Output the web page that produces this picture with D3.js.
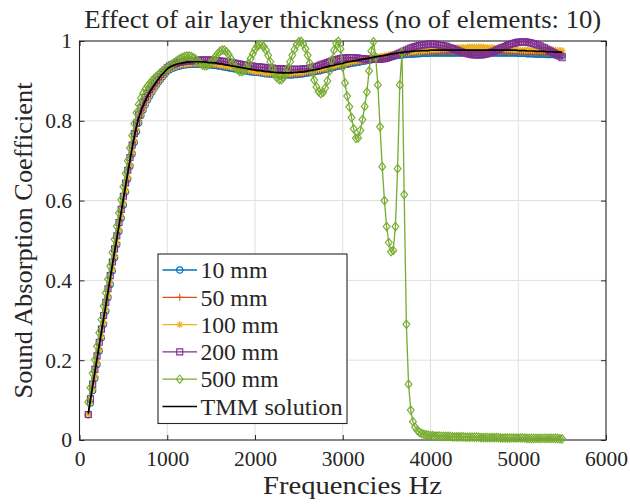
<!DOCTYPE html>
<html>
<head>
<meta charset="utf-8">
<script src="https://cdn.jsdelivr.net/npm/d3@7"></script>
<style>
  body { margin: 0; background: #fff; }
  svg text { font-family: "Liberation Serif", "DejaVu Serif", "Times New Roman", serif; fill: #262626; }
</style>
</head>
<body>
<svg id="chart" width="630" height="504"></svg>
<script>
// Frequency grid (Hz): 100 to 5500 in 25 Hz steps
const frequencies = d3.range(100, 5501, 25);

// Transfer-matrix reference solution
const tmmSolution = [
  0.067,0.101,0.135,0.169,0.203,0.237,0.270,0.304,
  0.337,0.371,0.404,0.438,0.471,0.504,0.537,0.570,
  0.603,0.636,0.668,0.700,0.731,0.760,0.786,0.807,
  0.824,0.838,0.850,0.861,0.871,0.880,0.889,0.897,
  0.905,0.912,0.918,0.924,0.930,0.934,0.937,0.939,
  0.941,0.943,0.944,0.945,0.946,0.947,0.947,0.948,
  0.948,0.948,0.948,0.948,0.948,0.947,0.947,0.946,
  0.946,0.945,0.945,0.944,0.943,0.942,0.941,0.940,
  0.939,0.938,0.937,0.936,0.935,0.934,0.933,0.932,
  0.931,0.930,0.929,0.928,0.927,0.926,0.926,0.925,
  0.924,0.923,0.923,0.922,0.922,0.921,0.921,0.920,
  0.920,0.920,0.920,0.920,0.920,0.920,0.921,0.921,
  0.922,0.922,0.923,0.924,0.925,0.926,0.927,0.928,
  0.929,0.930,0.931,0.933,0.934,0.935,0.937,0.938,
  0.939,0.941,0.942,0.943,0.944,0.946,0.947,0.948,
  0.949,0.950,0.951,0.952,0.953,0.954,0.955,0.956,
  0.957,0.958,0.959,0.960,0.961,0.962,0.963,0.964,
  0.965,0.966,0.967,0.968,0.969,0.970,0.971,0.971,
  0.972,0.973,0.973,0.974,0.974,0.975,0.975,0.975,
  0.976,0.976,0.976,0.976,0.977,0.977,0.977,0.977,
  0.977,0.977,0.977,0.977,0.977,0.977,0.977,0.977,
  0.977,0.977,0.977,0.977,0.977,0.977,0.977,0.977,
  0.977,0.977,0.977,0.977,0.977,0.977,0.977,0.977,
  0.977,0.977,0.977,0.977,0.977,0.977,0.977,0.977,
  0.977,0.977,0.977,0.977,0.976,0.976,0.976,0.976,
  0.975,0.975,0.975,0.975,0.974,0.974,0.974,0.974,
  0.974,0.973,0.973,0.973,0.973,0.972,0.972,0.972,
  0.972
];

// Air layer 10 mm
const air10 = [
  0.063,0.093,0.124,0.155,0.189,0.223,0.256,0.290,
  0.323,0.357,0.390,0.424,0.457,0.490,0.523,0.556,
  0.589,0.622,0.654,0.686,0.717,0.746,0.773,0.795,
  0.813,0.828,0.841,0.852,0.862,0.872,0.881,0.889,
  0.897,0.904,0.911,0.917,0.924,0.928,0.931,0.933,
  0.935,0.937,0.938,0.939,0.940,0.941,0.941,0.942,
  0.942,0.942,0.942,0.942,0.942,0.941,0.941,0.940,
  0.940,0.939,0.939,0.938,0.937,0.936,0.935,0.934,
  0.933,0.932,0.931,0.930,0.929,0.928,0.927,0.926,
  0.925,0.924,0.923,0.922,0.922,0.921,0.921,0.920,
  0.919,0.918,0.918,0.917,0.917,0.916,0.916,0.915,
  0.915,0.915,0.915,0.915,0.915,0.915,0.916,0.916,
  0.917,0.917,0.918,0.919,0.920,0.921,0.922,0.923,
  0.924,0.925,0.926,0.928,0.929,0.930,0.932,0.933,
  0.934,0.936,0.937,0.938,0.939,0.941,0.942,0.943,
  0.944,0.945,0.946,0.947,0.948,0.949,0.950,0.951,
  0.952,0.953,0.954,0.955,0.956,0.957,0.958,0.958,
  0.959,0.960,0.961,0.962,0.963,0.964,0.965,0.965,
  0.966,0.966,0.967,0.967,0.967,0.968,0.968,0.968,
  0.969,0.969,0.969,0.969,0.970,0.970,0.970,0.970,
  0.970,0.970,0.970,0.970,0.970,0.970,0.970,0.970,
  0.970,0.970,0.970,0.970,0.970,0.970,0.970,0.970,
  0.970,0.970,0.970,0.970,0.970,0.970,0.970,0.970,
  0.970,0.970,0.970,0.970,0.970,0.970,0.970,0.970,
  0.970,0.970,0.970,0.970,0.969,0.969,0.969,0.969,
  0.968,0.968,0.968,0.968,0.967,0.967,0.967,0.967,
  0.967,0.966,0.966,0.966,0.966,0.965,0.965,0.965,
  0.965
];

// Air layer 50 mm
const air50 = [
  0.064,0.096,0.128,0.159,0.193,0.227,0.260,0.294,
  0.327,0.361,0.394,0.428,0.461,0.494,0.527,0.560,
  0.593,0.626,0.658,0.690,0.721,0.750,0.777,0.799,
  0.816,0.831,0.844,0.855,0.865,0.874,0.883,0.891,
  0.899,0.907,0.913,0.919,0.926,0.930,0.933,0.935,
  0.937,0.939,0.940,0.941,0.942,0.943,0.943,0.944,
  0.944,0.944,0.944,0.944,0.944,0.943,0.943,0.942,
  0.942,0.941,0.941,0.940,0.939,0.938,0.937,0.936,
  0.935,0.934,0.933,0.932,0.931,0.930,0.929,0.928,
  0.927,0.926,0.925,0.924,0.923,0.922,0.922,0.921,
  0.920,0.919,0.919,0.918,0.918,0.917,0.917,0.916,
  0.916,0.916,0.916,0.916,0.916,0.916,0.917,0.917,
  0.918,0.918,0.919,0.920,0.921,0.922,0.923,0.924,
  0.925,0.926,0.927,0.929,0.930,0.931,0.933,0.934,
  0.935,0.937,0.938,0.939,0.940,0.942,0.943,0.944,
  0.945,0.946,0.947,0.948,0.949,0.950,0.951,0.952,
  0.953,0.954,0.955,0.956,0.957,0.958,0.959,0.960,
  0.961,0.962,0.963,0.964,0.965,0.966,0.967,0.967,
  0.968,0.969,0.969,0.970,0.970,0.971,0.971,0.971,
  0.972,0.972,0.972,0.972,0.973,0.973,0.973,0.973,
  0.973,0.973,0.973,0.973,0.973,0.973,0.973,0.973,
  0.973,0.973,0.973,0.973,0.973,0.973,0.973,0.973,
  0.973,0.973,0.973,0.973,0.973,0.973,0.973,0.973,
  0.973,0.973,0.973,0.973,0.973,0.973,0.973,0.973,
  0.973,0.973,0.973,0.973,0.972,0.972,0.972,0.972,
  0.971,0.971,0.971,0.971,0.970,0.970,0.970,0.970,
  0.970,0.969,0.969,0.969,0.969,0.968,0.968,0.968,
  0.968
];

// Air layer 100 mm
const air100 = [
  0.064,0.095,0.127,0.158,0.192,0.226,0.259,0.293,
  0.326,0.360,0.393,0.427,0.460,0.493,0.526,0.559,
  0.592,0.625,0.657,0.689,0.720,0.749,0.776,0.798,
  0.815,0.830,0.843,0.854,0.864,0.873,0.882,0.890,
  0.898,0.906,0.912,0.918,0.925,0.929,0.932,0.935,
  0.937,0.939,0.940,0.941,0.942,0.943,0.943,0.944,
  0.944,0.944,0.944,0.944,0.944,0.944,0.944,0.943,
  0.943,0.942,0.942,0.941,0.940,0.939,0.938,0.937,
  0.936,0.935,0.934,0.933,0.932,0.931,0.930,0.929,
  0.928,0.927,0.926,0.925,0.924,0.923,0.923,0.922,
  0.921,0.920,0.920,0.919,0.919,0.918,0.918,0.918,
  0.918,0.918,0.918,0.918,0.918,0.919,0.920,0.920,
  0.921,0.921,0.922,0.923,0.924,0.925,0.926,0.927,
  0.928,0.929,0.930,0.932,0.933,0.934,0.936,0.937,
  0.938,0.940,0.941,0.942,0.943,0.945,0.946,0.947,
  0.948,0.949,0.950,0.951,0.952,0.953,0.954,0.955,
  0.956,0.957,0.958,0.959,0.960,0.961,0.962,0.963,
  0.964,0.965,0.966,0.967,0.968,0.969,0.970,0.970,
  0.971,0.972,0.972,0.973,0.973,0.974,0.974,0.975,
  0.975,0.976,0.976,0.977,0.977,0.978,0.978,0.979,
  0.979,0.980,0.980,0.981,0.981,0.982,0.982,0.983,
  0.983,0.983,0.984,0.984,0.984,0.985,0.985,0.985,
  0.985,0.985,0.985,0.985,0.985,0.984,0.984,0.984,
  0.983,0.983,0.982,0.982,0.981,0.981,0.980,0.980,
  0.979,0.979,0.978,0.978,0.978,0.977,0.977,0.977,
  0.977,0.977,0.977,0.977,0.977,0.977,0.977,0.977,
  0.977,0.977,0.977,0.977,0.977,0.977,0.976,0.976,
  0.976
];

// Air layer 200 mm
const air200 = [
  0.064,0.103,0.140,0.177,0.211,0.245,0.278,0.312,
  0.345,0.379,0.412,0.446,0.479,0.512,0.545,0.578,
  0.611,0.644,0.676,0.708,0.739,0.768,0.794,0.815,
  0.832,0.846,0.858,0.868,0.878,0.887,0.895,0.902,
  0.910,0.916,0.922,0.927,0.933,0.937,0.940,0.942,
  0.944,0.946,0.947,0.948,0.949,0.950,0.950,0.951,
  0.951,0.951,0.952,0.952,0.952,0.952,0.952,0.952,
  0.952,0.952,0.951,0.951,0.950,0.949,0.949,0.948,
  0.947,0.946,0.945,0.944,0.943,0.942,0.941,0.940,
  0.939,0.938,0.937,0.937,0.936,0.935,0.935,0.934,
  0.934,0.933,0.933,0.932,0.932,0.931,0.931,0.930,
  0.930,0.930,0.929,0.929,0.929,0.929,0.929,0.929,
  0.929,0.929,0.930,0.930,0.931,0.932,0.933,0.935,
  0.936,0.938,0.940,0.942,0.944,0.946,0.948,0.950,
  0.952,0.953,0.955,0.956,0.957,0.957,0.958,0.958,
  0.958,0.958,0.958,0.957,0.956,0.956,0.955,0.955,
  0.954,0.954,0.954,0.954,0.954,0.954,0.955,0.956,
  0.957,0.959,0.961,0.963,0.965,0.967,0.970,0.972,
  0.975,0.977,0.980,0.982,0.984,0.986,0.987,0.989,
  0.990,0.991,0.991,0.992,0.992,0.992,0.992,0.991,
  0.990,0.989,0.988,0.987,0.985,0.983,0.981,0.979,
  0.977,0.975,0.973,0.971,0.970,0.968,0.967,0.966,
  0.965,0.965,0.965,0.965,0.966,0.967,0.968,0.970,
  0.972,0.974,0.977,0.979,0.982,0.984,0.986,0.989,
  0.991,0.993,0.994,0.996,0.997,0.997,0.998,0.998,
  0.997,0.996,0.995,0.993,0.992,0.990,0.988,0.985,
  0.983,0.980,0.977,0.974,0.971,0.968,0.965,0.962,
  0.958
];

// Air layer 500 mm
const air500 = [
  0.095,0.131,0.167,0.201,0.235,0.269,0.302,0.336,
  0.369,0.403,0.436,0.470,0.503,0.536,0.569,0.602,
  0.635,0.668,0.700,0.732,0.763,0.793,0.820,0.841,
  0.857,0.869,0.879,0.887,0.894,0.900,0.906,0.911,
  0.916,0.920,0.924,0.928,0.932,0.937,0.941,0.945,
  0.949,0.953,0.956,0.959,0.961,0.962,0.962,0.961,
  0.958,0.954,0.949,0.944,0.940,0.938,0.938,0.941,
  0.946,0.953,0.961,0.968,0.974,0.977,0.977,0.973,
  0.966,0.956,0.945,0.935,0.928,0.924,0.923,0.926,
  0.933,0.944,0.956,0.968,0.979,0.987,0.991,0.991,
  0.986,0.977,0.964,0.948,0.932,0.918,0.908,0.903,
  0.903,0.908,0.918,0.932,0.948,0.964,0.979,0.991,
  0.998,0.999,0.993,0.981,0.964,0.944,0.922,0.902,
  0.885,0.873,0.868,0.871,0.882,0.900,0.925,0.952,
  0.977,0.994,0.999,0.980,0.935,0.895,0.862,0.835,
  0.808,0.780,0.756,0.757,0.776,0.803,0.836,0.872,
  0.925,0.975,0.998,0.960,0.890,0.785,0.685,0.600,
  0.535,0.495,0.472,0.475,0.535,0.680,0.890,0.970,
  0.615,0.290,0.140,0.075,0.046,0.032,0.024,0.019,
  0.016,0.014,0.013,0.012,0.011,0.011,0.010,0.010,
  0.010,0.009,0.009,0.009,0.009,0.009,0.008,0.008,
  0.008,0.008,0.008,0.008,0.007,0.007,0.007,0.007,
  0.007,0.007,0.007,0.006,0.006,0.006,0.006,0.006,
  0.006,0.006,0.006,0.006,0.005,0.005,0.005,0.005,
  0.005,0.005,0.005,0.005,0.005,0.005,0.005,0.005,
  0.004,0.004,0.004,0.004,0.004,0.004,0.004,0.004,
  0.004,0.004,0.004,0.004,0.004,0.004,0.004,0.003,
  0.003
];

const seriesLabels = ["10 mm", "50 mm", "100 mm", "200 mm", "500 mm"];
const referenceLabel = "TMM solution";
const xTickValues = [0, 1000, 2000, 3000, 4000, 5000, 6000];
const xTickLabels = ["0", "1000", "2000", "3000", "4000", "5000", "6000"];
const yTickValues = [0, 0.2, 0.4, 0.6, 0.8, 1];
const yTickLabels = ["0", "0.2", "0.4", "0.6", "0.8", "1"];

const titleText = "Effect of air layer thickness (no of elements: 10)";
const xLabelText = "Frequencies Hz";
const yLabelText = "Sound Absorption Coefficient";

// ---- styling ----
const serifStack = "'Liberation Serif', 'DejaVu Serif', 'Times New Roman', serif";
const seriesStyle = [
  { color: "#0072BD", marker: "circle" },
  { color: "#D95319", marker: "plus" },
  { color: "#EDB120", marker: "star" },
  { color: "#7E2F8E", marker: "square" },
  { color: "#77AC30", marker: "diamond" }
];
const markerPaths = {
  circle: "M3.1,0A3.1,3.1 0 1,1 -3.1,0A3.1,3.1 0 1,1 3.1,0Z",
  plus: "M-3.5,0H3.5M0,-3.5V3.5",
  star: "M-3.5,0H3.5M0,-3.5V3.5M-2.5,-2.5L2.5,2.5M-2.5,2.5L2.5,-2.5",
  square: "M-3,-3H3V3H-3Z",
  diamond: "M0,-4.2L3.4,0L0,4.2L-3.4,0Z"
};
const ink = "#262626";
const box = { left: 79.5, right: 606, top: 41, bottom: 440 };

const seriesValues = [air10, air50, air100, air200, air500];
[...seriesValues, tmmSolution].forEach((arr, i) => {
  if (arr.length !== frequencies.length) {
    throw new Error("length mismatch in series " + i + ": " + arr.length + " vs " + frequencies.length);
  }
});

const svg = d3.select("#chart").attr("font-family", serifStack);

const x = d3.scaleLinear().domain([0, 6000]).range([box.left, box.right]);
const y = d3.scaleLinear().domain([0, 1]).range([box.bottom, box.top]);

// grid
const grid = svg.append("g").attr("stroke", "#dfdfdf").attr("stroke-width", 1);
grid.selectAll("line.gx").data(xTickValues.slice(1, -1)).join("line")
  .attr("x1", d => x(d)).attr("x2", d => x(d))
  .attr("y1", box.top).attr("y2", box.bottom);
grid.selectAll("line.gy").data(yTickValues.slice(1, -1)).join("line")
  .attr("x1", box.left).attr("x2", box.right)
  .attr("y1", d => y(d)).attr("y2", d => y(d));

// axes (ticks point inward on all four sides)
function styleAxis(g) {
  g.attr("font-family", serifStack);
  g.select(".domain").remove();
  g.selectAll(".tick line").attr("stroke", ink).attr("stroke-width", 1);
  g.selectAll(".tick text").attr("fill", ink).attr("font-size", 21.5)
    .style("font-family", serifStack);
}
svg.append("g").attr("transform", `translate(0,${box.bottom})`)
  .call(d3.axisBottom(x).tickValues(xTickValues).tickSize(-5).tickPadding(11)
    .tickFormat((d, i) => xTickLabels[i]))
  .call(styleAxis);
svg.append("g").attr("transform", `translate(0,${box.top})`)
  .call(d3.axisTop(x).tickValues(xTickValues).tickSize(-5).tickFormat(""))
  .call(styleAxis);
svg.append("g").attr("transform", `translate(${box.left},0)`)
  .call(d3.axisLeft(y).tickValues(yTickValues).tickSize(-5).tickPadding(7.5)
    .tickFormat((d, i) => yTickLabels[i]))
  .call(styleAxis);
svg.append("g").attr("transform", `translate(${box.right},0)`)
  .call(d3.axisRight(y).tickValues(yTickValues).tickSize(-5).tickFormat(""))
  .call(styleAxis);

svg.append("rect")
  .attr("x", box.left).attr("y", box.top)
  .attr("width", box.right - box.left).attr("height", box.bottom - box.top)
  .attr("fill", "none").attr("stroke", ink).attr("stroke-width", 1.1);

// series
const line = d3.line().x(d => x(d[0])).y(d => y(d[1]));
seriesValues.forEach((vals, i) => {
  const pts = frequencies.map((f, j) => [f, vals[j]]);
  const st = seriesStyle[i];
  const g = svg.append("g");
  g.append("path").datum(pts).attr("d", line)
    .attr("fill", "none").attr("stroke", st.color).attr("stroke-width", 1.3);
  g.selectAll("path.mk").data(pts).join("path").attr("class", "mk")
    .attr("transform", d => `translate(${x(d[0])},${y(d[1])})`)
    .attr("d", markerPaths[st.marker])
    .attr("fill", "none").attr("stroke", st.color).attr("stroke-width", 1.15);
});
svg.append("path")
  .datum(frequencies.map((f, j) => [f, tmmSolution[j]]))
  .attr("d", line).attr("fill", "none").attr("stroke", "#000").attr("stroke-width", 1.7);

// title and axis labels
function label(sel) { return sel.style("font-family", serifStack).attr("fill", ink); }
svg.append("text").attr("x", (box.left + box.right) / 2).attr("y", 28)
  .attr("text-anchor", "middle").attr("font-size", 25)
  .attr("textLength", 517).attr("lengthAdjust", "spacingAndGlyphs")
  .text(titleText).call(label);
svg.append("text").attr("x", 352.5).attr("y", 494)
  .attr("text-anchor", "middle").attr("font-size", 25)
  .attr("textLength", 179).attr("lengthAdjust", "spacingAndGlyphs")
  .text(xLabelText).call(label);
svg.append("text")
  .attr("transform", `translate(32,${(box.top + box.bottom) / 2}) rotate(-90)`)
  .attr("text-anchor", "middle").attr("font-size", 25)
  .attr("textLength", 316).attr("lengthAdjust", "spacingAndGlyphs")
  .text(yLabelText).call(label);

// legend
const legend = { x: 158, y: 254, w: 189, h: 169.5, row0: 270, rowStep: 27.3,
  lineX1: 162.5, lineX2: 197, textX: 200.5 };
const legendTextLength = { "10 mm": 67, "50 mm": 67, "100 mm": 78, "200 mm": 78,
  "500 mm": 78, "TMM solution": 142 };
const lg = svg.append("g");
lg.append("rect").attr("x", legend.x).attr("y", legend.y)
  .attr("width", legend.w).attr("height", legend.h)
  .attr("fill", "#fff").attr("stroke", ink).attr("stroke-width", 1.1);
const entries = seriesLabels.map((lab, i) => ({ label: lab, color: seriesStyle[i].color,
  marker: seriesStyle[i].marker, width: 1.3 }))
  .concat([{ label: referenceLabel, color: "#000", marker: null, width: 1.7 }]);
entries.forEach((e, i) => {
  const cy = legend.row0 + i * legend.rowStep;
  lg.append("line").attr("x1", legend.lineX1).attr("x2", legend.lineX2)
    .attr("y1", cy).attr("y2", cy).attr("stroke", e.color).attr("stroke-width", e.width);
  if (e.marker) {
    lg.append("path").attr("transform", `translate(${(legend.lineX1 + legend.lineX2) / 2},${cy})`)
      .attr("d", markerPaths[e.marker]).attr("fill", "none")
      .attr("stroke", e.color).attr("stroke-width", 1.1);
  }
  lg.append("text").attr("x", legend.textX).attr("y", cy).attr("dy", "0.36em")
    .attr("font-size", 23)
    .attr("textLength", legendTextLength[e.label]).attr("lengthAdjust", "spacingAndGlyphs")
    .text(e.label).call(label);
});
</script>
</body>
</html>
